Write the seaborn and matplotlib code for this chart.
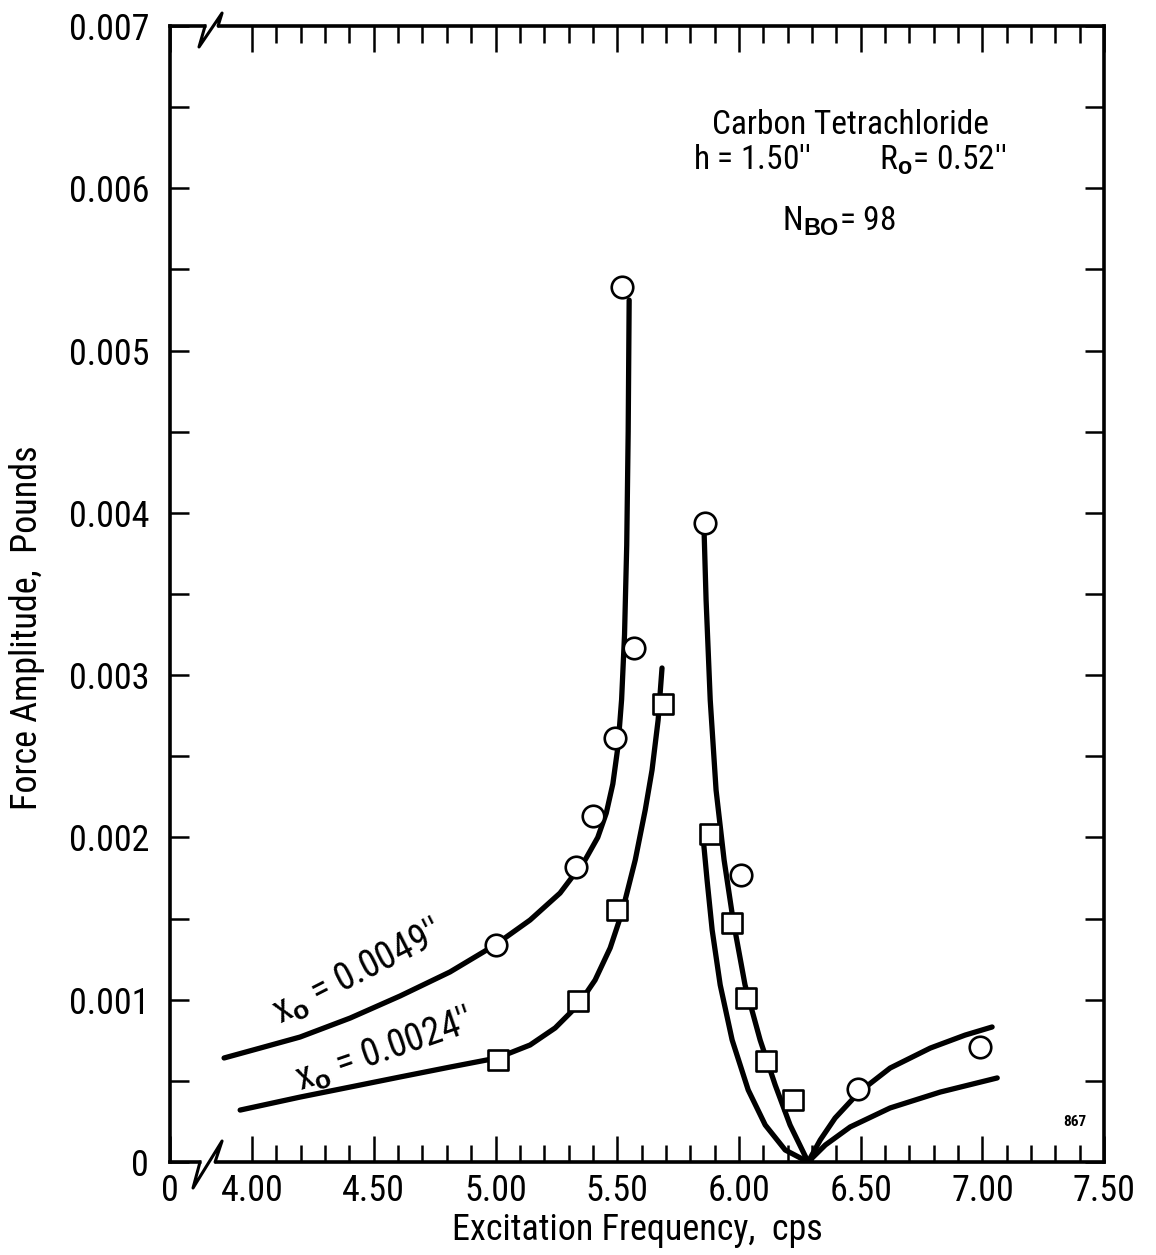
import matplotlib
matplotlib.use("Agg")
import matplotlib.pyplot as plt
from matplotlib.ticker import FixedLocator, MultipleLocator
import seaborn as sns

# measured points, x_o = 0.0049"
circle_freq = [5.00, 5.33, 5.40, 5.49, 5.57, 5.52, 5.86, 6.01, 6.49, 6.99]
circle_force = [0.00134, 0.00182, 0.00213, 0.00261, 0.00317, 0.00539, 0.00394, 0.00177, 0.00045, 0.00071]

# measured points, x_o = 0.0024"
square_freq = [5.01, 5.34, 5.50, 5.69, 5.88, 5.97, 6.03, 6.11, 6.22]
square_force = [0.00063, 0.00099, 0.00155, 0.00282, 0.00202, 0.00147, 0.00101, 0.00062, 0.00038]

# theory curves (three branches each)
hi_left_x = [3.885, 4.033, 4.197, 4.403, 4.608, 4.813, 4.998, 5.142, 5.265, 5.368, 5.420,
             5.455, 5.482, 5.503, 5.518, 5.530, 5.539, 5.545, 5.549]
hi_left_y = [0.000641, 0.000702, 0.000770, 0.000887, 0.001023, 0.001171, 0.001337, 0.001491,
             0.001657, 0.001861, 0.002000, 0.002150, 0.002330, 0.002560, 0.002850, 0.003250,
             0.003800, 0.004500, 0.005311]
hi_mid_x = [5.857, 5.865, 5.882, 5.906, 5.939, 5.976, 6.025, 6.087, 6.149, 6.210, 6.284]
hi_mid_y = [0.003876, 0.003463, 0.002847, 0.002292, 0.001861, 0.001491, 0.001091, 0.000752,
            0.000474, 0.000228, 0.0]
hi_right_x = [6.284, 6.334, 6.395, 6.494, 6.621, 6.786, 6.929, 7.040]
hi_right_y = [0.0, 0.000136, 0.000271, 0.000431, 0.000579, 0.000702, 0.000782, 0.000832]

lo_left_x = [3.951, 4.197, 4.403, 4.608, 4.813, 5.007, 5.142, 5.245, 5.339, 5.409, 5.471,
             5.520, 5.574, 5.615, 5.643, 5.668, 5.684]
lo_left_y = [0.000320, 0.000400, 0.000462, 0.000524, 0.000585, 0.000641, 0.000721, 0.000826,
             0.000967, 0.001121, 0.001319, 0.001540, 0.001861, 0.002169, 0.002415, 0.002723,
             0.003044]
lo_mid_x = [5.853, 5.869, 5.890, 5.923, 5.972, 6.038, 6.108, 6.190, 6.284]
lo_mid_y = [0.001996, 0.001738, 0.001429, 0.001091, 0.000752, 0.000444, 0.000228, 0.000074, 0.0]
lo_right_x = [6.284, 6.355, 6.457, 6.621, 6.827, 7.061]
lo_right_y = [0.0, 0.000105, 0.000216, 0.000333, 0.000431, 0.000518]

xtick_vals = [3.663, 4.0, 4.5, 5.0, 5.5, 6.0, 6.5, 7.0, 7.5]
xtick_labels = ["0", "4.00", "4.50", "5.00", "5.50", "6.00", "6.50", "7.00", "7.50"]
ytick_vals = [0, 0.001, 0.002, 0.003, 0.004, 0.005, 0.006, 0.007]
ytick_labels = ["0", "0.001", "0.002", "0.003", "0.004", "0.005", "0.006", "0.007"]

sns.set_style("white")
plt.rcParams["font.family"] = ["Roboto Condensed", "Liberation Sans", "DejaVu Sans"]
plt.rcParams["text.color"] = "black"
plt.rcParams["axes.labelcolor"] = "black"
plt.rcParams["mathtext.fontset"] = "custom"
plt.rcParams["mathtext.rm"] = "Roboto Condensed"
plt.rcParams["mathtext.bf"] = "Liberation Sans:bold"

fig = plt.figure(figsize=(11.56, 12.55), dpi=100)
ax = fig.add_axes([0.1471, 0.0741, 0.808, 0.9052])

curves = [(hi_left_x, hi_left_y), (hi_mid_x, hi_mid_y), (hi_right_x, hi_right_y),
          (lo_left_x, lo_left_y), (lo_mid_x, lo_mid_y), (lo_right_x, lo_right_y)]
for cx, cy in curves:
    sns.lineplot(x=cx, y=cy, sort=False, color="black", linewidth=3.8, ax=ax)

sns.scatterplot(x=circle_freq, y=circle_force, marker="o", s=240, facecolor="white",
                edgecolor="black", linewidth=1.9, zorder=5, ax=ax)
sns.scatterplot(x=square_freq, y=square_force, marker="s", s=200, facecolor="white",
                edgecolor="black", linewidth=1.9, zorder=5, ax=ax)

ax.set_xlim(3.663, 7.5)
ax.set_ylim(0, 0.007)
ax.xaxis.set_major_locator(FixedLocator(xtick_vals))
ax.set_xticklabels(xtick_labels)
ax.xaxis.set_minor_locator(FixedLocator([4 + 0.1 * i for i in range(1, 35) if i % 5 != 0]))
ax.yaxis.set_major_locator(FixedLocator(ytick_vals))
ax.set_yticklabels(ytick_labels)
ax.yaxis.set_minor_locator(MultipleLocator(0.0005))

ax.tick_params(axis="both", which="both", direction="in", top=True, right=True,
               bottom=True, left=True, width=1.8, labelsize=26, colors="black")
ax.tick_params(axis="x", which="major", length=19, pad=8)
ax.tick_params(axis="x", which="minor", length=12)
ax.tick_params(axis="y", which="both", length=14, pad=15)
for sp in ax.spines.values():
    sp.set_linewidth(2.6)
    sp.set_color("black")

ax.set_xlabel("Excitation Frequency,  cps", fontsize=26, labelpad=2)
ax.set_ylabel("Force Amplitude,  Pounds", fontsize=26)
ax.yaxis.set_label_coords(-0.134, 0.47)

# axis break marks
for y0, pts in [(0.0, [(0.0321, 0.0), (0.0246, -0.0229), (0.0557, 0.0185), (0.0482, 0.0)]),
                (1.0, [(0.0375, 1.0), (0.031, 0.9815), (0.0557, 1.0114), (0.0514, 1.0)])]:
    gx = [pts[0][0] + 0.001, pts[3][0] - 0.001]
    ax.plot(gx, [y0, y0], color="white", linewidth=5, transform=ax.transAxes,
            clip_on=False, zorder=10, solid_capstyle="butt")
    ax.plot([p[0] for p in pts], [p[1] for p in pts], color="black", linewidth=2.2,
            transform=ax.transAxes, clip_on=False, zorder=11)

# curve labels
ax.text(4.431, 0.001170, r"x$_{\mathbf{o}}$ = 0.0049''", fontsize=27, rotation=27,
        rotation_mode="anchor", ha="center", va="center")
ax.text(4.542, 0.000690, r"x$_{\mathbf{o}}$ = 0.0024''", fontsize=27, rotation=19,
        rotation_mode="anchor", ha="center", va="center")

# parameter block
ax.text(6.457, 0.00639, "Carbon Tetrachloride", fontsize=24, ha="center", va="center")
ax.text(6.455, 0.006174, r"h = 1.50''         R$_{\mathbf{o}}$= 0.52''", fontsize=24,
        ha="center", va="center")
ax.text(6.41, 0.0058, r"N$_{\mathbf{BO}}$= 98", fontsize=24, ha="center", va="center")
ax.text(7.38, 0.000246, "867", fontsize=11, fontweight="bold", ha="center", va="center")

fig.savefig("out.png", dpi=100)
